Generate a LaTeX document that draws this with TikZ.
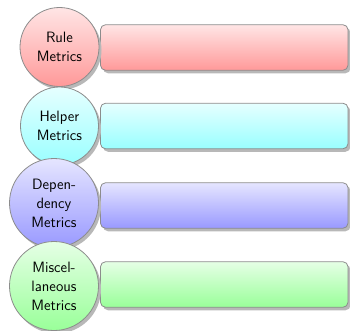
\documentclass[tikz,border=0pt]{standalone}
\usetikzlibrary{shadows}
\begin{document}
\begin{tikzpicture}[x=1pt, y=-1pt,
  every node/.style={font=\sffamily\fontsize{15}{19}\selectfont},
  tint/.style={top color=#1!10, bottom color=#1!40},
  shade drop/.style={drop shadow={shadow xshift=2.5pt, shadow yshift=-3pt, fill=black!28, opacity=1}},
  metric/.style={circle, draw=black!45, line width=0.8pt, inner sep=0pt,
    minimum size=#1, align=center, shade drop},
  bar/.style={rectangle, rounded corners=5pt, draw=black!45, line width=0.8pt,
    minimum width=247.5pt, minimum height=45.5pt, shade drop}
]
\useasboundingbox (0,0) rectangle (350,330);

% empty bars, one per metric group
\node[bar, tint=red]   (rulebar)   at (224.25,47.5)  {};
\node[bar, tint=cyan]  (helperbar) at (224.25,126)   {};
\node[bar, tint=blue]  (depbar)    at (224.25,205.5) {};
\node[bar, tint=green] (miscbar)   at (224.25,284.5) {};

% labelled circles on the left of each bar
\node[metric=79pt, tint=red]   (rule)   at (59.5,47)  {Rule\\Metrics};
\node[metric=78pt, tint=cyan]  (helper) at (59.5,126) {Helper\\Metrics};
\node[metric=89pt, tint=blue]  (dep)    at (54,203)   {Depen-\\dency\\Metrics};
\node[metric=89pt, tint=green] (misc)   at (54,286)   {Miscel-\\laneous\\Metrics};
\end{tikzpicture}
\end{document}
